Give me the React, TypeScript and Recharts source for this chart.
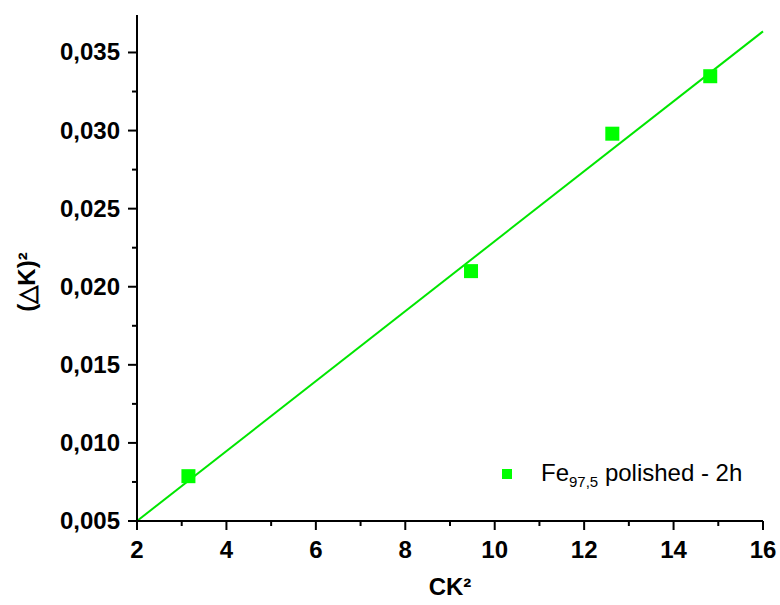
import React from "react";
import {
  ComposedChart,
  Scatter,
  XAxis,
  YAxis,
  ReferenceLine,
} from "recharts";

const ck2 = [3.15, 9.47, 12.63, 14.82];
const dk2 = [0.00787, 0.021, 0.0298, 0.03348];

// linear fit end points
const fitX = [2, 16];
const fitY = [0.005, 0.03635];

const xMajor = [2, 4, 6, 8, 10, 12, 14, 16];
const xMinor = [3, 5, 7, 9, 11, 13, 15];
const yMajor = [0.005, 0.01, 0.015, 0.02, 0.025, 0.03, 0.035];
const yMinor = [0.0075, 0.0125, 0.0175, 0.0225, 0.0275, 0.0325];

const points = ck2.map((x, i) => ({ x, y: dk2[i] }));
const fitSegment = fitX.map((x, i) => ({ x, y: fitY[i] }));

const GREEN = "#00ff00";
const LINE_GREEN = "#00e600";
const FONT = "'Liberation Sans', Arial, sans-serif";

const isMajor = (list: number[], v: number) => list.some((m) => Math.abs(m - v) < 1e-9);

function YTick({ x, y, payload }: any) {
  const major = isMajor(yMajor, payload.value);
  return (
    <g>
      <line x1={x} x2={x - (major ? 9 : 5)} y1={y} y2={y} stroke="#000" strokeWidth={2} />
      {major && (
        <text x={x - 17} y={y} dy={8} textAnchor="end" fontFamily={FONT} fontWeight="bold" fontSize={24} fill="#000">
          {payload.value.toFixed(3).replace(".", ",")}
        </text>
      )}
    </g>
  );
}

function XTick({ x, y, payload }: any) {
  const major = isMajor(xMajor, payload.value);
  return (
    <g>
      <line x1={x} x2={x} y1={y} y2={y + (major ? 9 : 5)} stroke="#000" strokeWidth={2} />
      {major && (
        <text x={x} y={y + 37} textAnchor="middle" fontFamily={FONT} fontWeight="bold" fontSize={24} fill="#000">
          {payload.value}
        </text>
      )}
    </g>
  );
}

function XTitle({ viewBox }: any) {
  return (
    <text x={viewBox.x + viewBox.width / 2} y={viewBox.y + 74} textAnchor="middle" fontFamily={FONT} fontWeight="bold" fontSize={24} fill="#000">
      CK²
    </text>
  );
}

function YTitle({ viewBox }: any) {
  const cx = 35;
  const cy = viewBox.y + viewBox.height / 2 + 14;
  return (
    <text x={cx} y={cy} transform={`rotate(-90 ${cx} ${cy})`} textAnchor="middle" fontFamily={FONT} fontWeight="bold" fontSize={24} fill="#000">
      (△K)²
    </text>
  );
}

function SquareMark({ cx, cy }: any) {
  return <rect x={cx - 7} y={cy - 7} width={14} height={14} fill={GREEN} />;
}

export default function App() {
  return (
    <div style={{ position: "absolute", left: 0, top: 0, width: 780, height: 605, background: "#fff" }}>
      <ComposedChart width={780} height={605} margin={{ top: 15, right: 17, bottom: 0, left: 0 }}>
        <XAxis
          type="number"
          dataKey="x"
          domain={[2, 16]}
          ticks={[...xMajor, ...xMinor].sort((a, b) => a - b)}
          interval={0}
          height={84}
          tickSize={0}
          tickMargin={0}
          tickLine={false}
          tick={<XTick />}
          axisLine={{ stroke: "#000", strokeWidth: 2 }}
          label={<XTitle />}
        />
        <YAxis
          type="number"
          dataKey="y"
          domain={[0.005, 0.0374]}
          ticks={[...yMajor, ...yMinor].sort((a, b) => a - b)}
          interval={0}
          width={137}
          tickSize={0}
          tickMargin={0}
          tickLine={false}
          tick={<YTick />}
          axisLine={{ stroke: "#000", strokeWidth: 2 }}
          label={<YTitle />}
        />
        <ReferenceLine segment={fitSegment} stroke={LINE_GREEN} strokeWidth={2} ifOverflow="visible" />
        <Scatter data={points} fill={GREEN} shape={<SquareMark />} isAnimationActive={false} />
      </ComposedChart>
      <div
        style={{
          position: "absolute",
          left: 502,
          top: 459,
          display: "flex",
          alignItems: "center",
          fontFamily: FONT,
          fontSize: 24,
          color: "#000",
          whiteSpace: "nowrap",
        }}
      >
        <span style={{ display: "inline-block", width: 10, height: 10, background: GREEN, marginRight: 29 }} />
        <span>
          Fe<sub style={{ fontSize: 15 }}>97,5</sub> polished - 2h
        </span>
      </div>
    </div>
  );
}
